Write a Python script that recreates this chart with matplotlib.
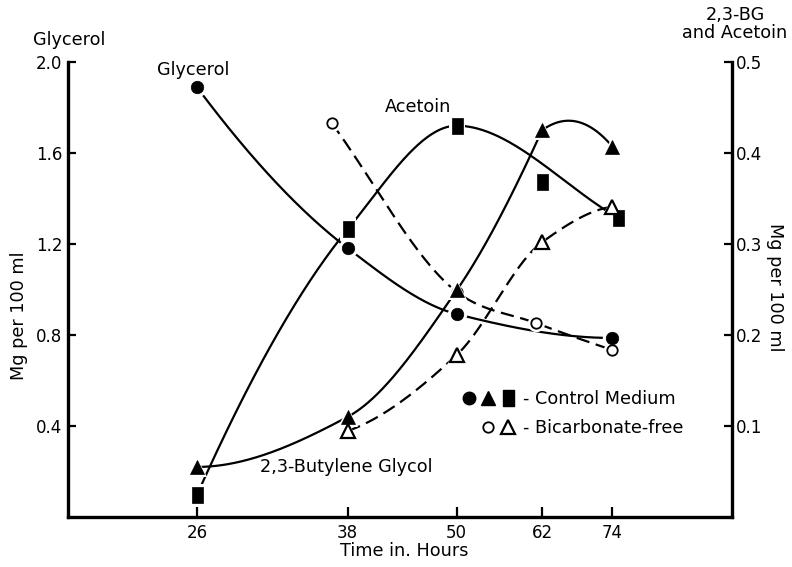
import numpy as np
import matplotlib
matplotlib.use("Agg")
import matplotlib.pyplot as plt
from matplotlib.lines import Line2D
from matplotlib.legend_handler import HandlerTuple
from matplotlib.ticker import NullLocator, FixedLocator, FixedFormatter

# ---------------- data ----------------
hour_ticks = [26, 38, 50, 62, 74]

# Glycerol (left axis, Mg per 100 ml)
glyc_ctrl_hours = [26, 38, 50, 74]
glyc_ctrl = [1.89, 1.182, 0.892, 0.787]
glyc_bf_hours = [36.5, 50, 61, 74]
glyc_bf = [1.732, 0.99, 0.853, 0.734]

# Acetoin (right axis)
acet_ctrl_hours = [26, 38, 50, 62, 75]
acet_ctrl = [0.024, 0.316, 0.43, 0.368, 0.329]
acet_on_curve = [True, True, True, False, True]

# 2,3-Butylene glycol (right axis)
bg_ctrl_hours = [26, 38, 50, 62, 74]
bg_ctrl = [0.055, 0.11, 0.249, 0.425, 0.407]
bg_bf_hours = [38, 50, 62, 74]
bg_bf = [0.0945, 0.178, 0.302, 0.341]


# ---------------- smooth curve helper (Hermite in log-time) ----------------
def _pchip_end(h0, h1, d0, d1):
    m = ((2 * h0 + h1) * d0 - h0 * d1) / (h0 + h1)
    if np.sign(m) != np.sign(d0):
        m = 0.0
    elif np.sign(d0) != np.sign(d1) and abs(m) > abs(3 * d0):
        m = 3 * d0
    return m


def spline(xs, ys, interior="pchip", ends=("pchip", "pchip"), n=120):
    t = np.log(np.asarray(xs, float))
    y = np.asarray(ys, float)
    h = np.diff(t)
    d = np.diff(y) / h
    m = np.zeros_like(y)
    for i in range(1, len(y) - 1):
        if interior == "pchip":
            if d[i - 1] * d[i] > 0:
                w1 = 2 * h[i] + h[i - 1]
                w2 = h[i] + 2 * h[i - 1]
                m[i] = (w1 + w2) / (w1 / d[i - 1] + w2 / d[i])
        else:
            m[i] = (d[i - 1] * h[i] + d[i] * h[i - 1]) / (h[i - 1] + h[i])
    if len(y) == 2:
        m[:] = d[0]
    else:
        ends_val = []
        for side, kind in zip((0, 1), ends):
            if side == 0:
                a = (h[0], h[1], d[0], d[1])
            else:
                a = (h[-1], h[-2], d[-1], d[-2])
            if kind == "secant":
                ends_val.append(a[2])
            elif kind == "parabolic":
                ends_val.append(((2 * a[0] + a[1]) * a[2] - a[0] * a[3]) / (a[0] + a[1]))
            else:
                ends_val.append(_pchip_end(*a))
        m[0], m[-1] = ends_val
    segs = []
    for i in range(len(h)):
        s = np.linspace(0, 1, n)
        h00 = 2 * s**3 - 3 * s**2 + 1
        h10 = s**3 - 2 * s**2 + s
        h01 = -2 * s**3 + 3 * s**2
        h11 = s**3 - s**2
        yy = h00 * y[i] + h10 * h[i] * m[i] + h01 * y[i + 1] + h11 * h[i] * m[i + 1]
        segs.append((np.exp(t[i] + s * h[i]), yy))
    return segs


def join(segs):
    return (np.concatenate([s[0] for s in segs]),
            np.concatenate([s[1] for s in segs]))


# ---------------- figure ----------------
plt.rcParams["font.family"] = ["DejaVu Sans"]
fig = plt.figure(figsize=(7.92, 5.67), dpi=100)
L, R, B, T = 68 / 792, 732 / 792, 1 - 517 / 567, 1 - 62 / 567
ax = fig.add_axes([L, B, R - L, T - B])
ax2 = ax.twinx()

ax.set_xscale("log")
ax.set_xlim(18.8, 100)
ax.set_ylim(0, 2.0)
ax2.set_ylim(0, 0.5)

LW = 1.6
DASH = (0, (6, 3))
K = "black"
FS = 12.7

# curves
x, y = join(spline(glyc_ctrl_hours, glyc_ctrl))
ax.plot(x, y, color=K, lw=LW, zorder=2)
x, y = join(spline(glyc_bf_hours, glyc_bf, interior="parabolic",
                   ends=("secant", "pchip")))
ax.plot(x, y, color=K, lw=LW, ls=DASH, zorder=2)

ah = [h for h, k in zip(acet_ctrl_hours, acet_on_curve) if k]
av = [v for v, k in zip(acet_ctrl, acet_on_curve) if k]
x, y = join(spline(ah, av, ends=("pchip", "secant")))
ax2.plot(x, y, color=K, lw=LW, zorder=2)

x, y = join(spline(bg_ctrl_hours[:4], bg_ctrl[:4], ends=("pchip", "parabolic")))
ax2.plot(x, y, color=K, lw=LW, zorder=2)
arc = spline(bg_ctrl_hours[2:], bg_ctrl[2:], interior="parabolic",
             ends=("parabolic", "parabolic"))[-1]
ax2.plot(arc[0], arc[1], color=K, lw=LW, zorder=2)

x, y = join(spline(bg_bf_hours, bg_bf))
ax2.plot(x, y, color=K, lw=LW, ls=DASH, zorder=2)

# markers (with white halo so lines stop short of the symbols)
rect = [(-0.72, -1), (0.72, -1), (0.72, 1), (-0.72, 1), (-0.72, -1)]
specs = [
    (ax, glyc_ctrl_hours, glyc_ctrl, dict(marker="o", ms=9, mfc=K, mec=K, mew=0.5)),
    (ax, glyc_bf_hours, glyc_bf, dict(marker="o", ms=7.5, mfc="white", mec=K, mew=1.3)),
    (ax2, acet_ctrl_hours, acet_ctrl, dict(marker=rect, ms=11, mfc=K, mec=K, mew=0.5)),
    (ax2, bg_ctrl_hours, bg_ctrl, dict(marker="^", ms=10, mfc=K, mec=K, mew=0.5)),
    (ax2, bg_bf_hours, bg_bf, dict(marker="^", ms=9.5, mfc="white", mec=K, mew=1.6)),
]
for a, hx, vy, st in specs:
    halo = dict(st)
    halo.update(ms=st["ms"] + 5, mfc="white", mec="white", mew=0)
    a.plot(hx, vy, ls="none", zorder=3, **halo)
for a, hx, vy, st in specs:
    a.plot(hx, vy, ls="none", zorder=4, clip_on=False, **st)

# spines / ticks
for a in (ax, ax2):
    a.spines["top"].set_visible(False)
    for s in a.spines.values():
        s.set_linewidth(2.4)
ax.spines["right"].set_visible(False)
ax2.spines["left"].set_visible(False)
ax2.spines["bottom"].set_visible(False)

ax.xaxis.set_minor_locator(NullLocator())
ax.xaxis.set_major_locator(FixedLocator(hour_ticks))
ax.xaxis.set_major_formatter(FixedFormatter([str(h) for h in hour_ticks]))
ax.set_yticks([0.4, 0.8, 1.2, 1.6, 2.0])
ax.set_yticklabels(["0.4", "0.8", "1.2", "1.6", "2.0"])
ax2.set_yticks([0.1, 0.2, 0.3, 0.4, 0.5])
ax2.set_yticklabels(["0.1", "0.2", "0.3", "0.4", "0.5"])

ax.tick_params(axis="x", direction="in", length=7, width=1.6, labelsize=12, pad=5)
ax.tick_params(axis="y", direction="in", length=6, width=1.6, labelsize=12, pad=4)
ax2.tick_params(axis="y", direction="in", length=6, width=1.6, labelsize=12, pad=3)

# axis labels
ax.set_ylabel("Mg per 100 ml", fontsize=FS)
ax.yaxis.set_label_coords(-0.060, 0.442)
ax2.set_ylabel("Mg per 100 ml", fontsize=FS, rotation=270, va="center")
ax2.yaxis.set_label_coords(1.065, 0.505)
ax.set_xlabel("Time in. Hours", fontsize=FS)
ax.xaxis.set_label_coords(0.506, -0.055)

# titles / annotations
fig.text(33 / 792, 1 - 40 / 567, "Glycerol", fontsize=FS, ha="left", va="center")
fig.text(735 / 792, 1 - 24 / 567, "2,3-BG\nand Acetoin", fontsize=FS,
         ha="center", va="center", linespacing=1.0)
ax.text(0.134, 0.982, "Glycerol", transform=ax.transAxes, fontsize=FS,
        ha="left", va="center")
ax.text(0.477, 0.901, "Acetoin", transform=ax.transAxes, fontsize=FS,
        ha="left", va="center")
ax.text(0.289, 0.110, "2,3-Butylene Glycol", transform=ax.transAxes, fontsize=FS,
        ha="left", va="center")

# legend
inv = Line2D([], [], ls="none", marker="none")
h_ctrl = (Line2D([], [], ls="none", marker="o", ms=9, mfc=K, mec=K),
          Line2D([], [], ls="none", marker="^", ms=10, mfc=K, mec=K),
          Line2D([], [], ls="none", marker=rect, ms=11, mfc=K, mec=K))
h_bf = (inv,
        Line2D([], [], ls="none", marker="o", ms=7.5, mfc="white", mec=K, mew=1.3),
        Line2D([], [], ls="none", marker="^", ms=9.5, mfc="white", mec=K, mew=1.6))
leg = ax.legend([h_ctrl, h_bf], ["- Control Medium", "- Bicarbonate-free"],
                handler_map={tuple: HandlerTuple(ndivide=3, pad=0.3)},
                loc="upper left", bbox_to_anchor=(0.593, 0.279), frameon=False,
                fontsize=FS, handlelength=3.0, handletextpad=0.45,
                labelspacing=0.62, borderpad=0, borderaxespad=0, numpoints=1)
leg.set_zorder(5)

fig.savefig("out.png", dpi=100)
